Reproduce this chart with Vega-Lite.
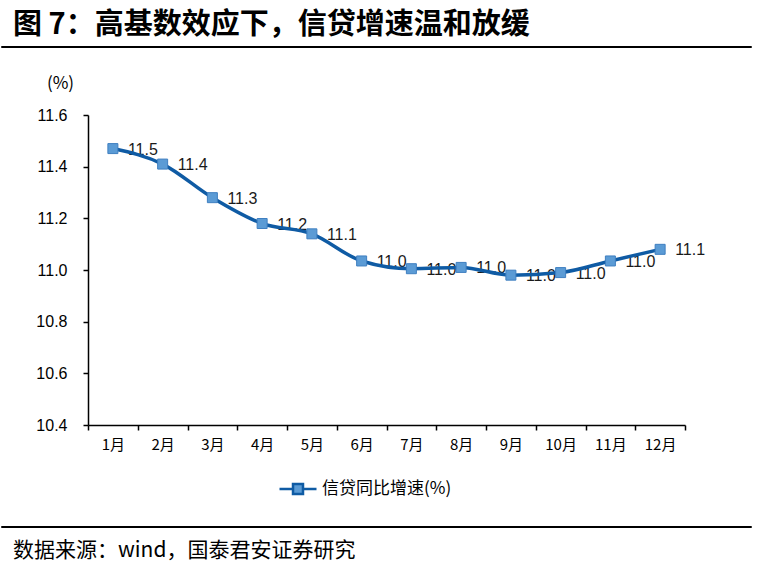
{
  "$schema": "https://vega.github.io/schema/vega-lite/v6.json",
  "background": "white",
  "padding": {"top": 10, "left": 0, "right": 0, "bottom": 0},
  "config": {
    "view": {"stroke": null},
    "font": "Noto Sans CJK SC"
  },
  "spacing": 26,
  "resolve": {"legend": {"color": "independent"}},
  "vconcat": [
    {
      "width": 750,
      "height": 1,
      "view": {"stroke": "black", "strokeWidth": 1},
      "title": {"text": "图 7：高基数效应下，信贷增速温和放缓", "anchor": "start", "dx": 12, "fontSize": 29, "fontWeight": "bold", "font": "Noto Sans CJK SC", "color": "black", "offset": 6},
      "data": {"values": []},
      "mark": "point"
    },
    {
      "spacing": 33,
      "resolve": {"legend": {"color": "independent"}},
      "hconcat": [
        {"width": 1, "height": 10, "data": {"values": []}, "mark": "point"},
        {
          "width": 597,
          "height": 310,
          "data": {"values": [
            {"month": "1月", "value": 11.47, "series": "信贷同比增速(%)"},
            {"month": "2月", "value": 11.41, "series": "信贷同比增速(%)"},
            {"month": "3月", "value": 11.28, "series": "信贷同比增速(%)"},
            {"month": "4月", "value": 11.18, "series": "信贷同比增速(%)"},
            {"month": "5月", "value": 11.14, "series": "信贷同比增速(%)"},
            {"month": "6月", "value": 11.035, "series": "信贷同比增速(%)"},
            {"month": "7月", "value": 11.005, "series": "信贷同比增速(%)"},
            {"month": "8月", "value": 11.01, "series": "信贷同比增速(%)"},
            {"month": "9月", "value": 10.98, "series": "信贷同比增速(%)"},
            {"month": "10月", "value": 10.99, "series": "信贷同比增速(%)"},
            {"month": "11月", "value": 11.035, "series": "信贷同比增速(%)"},
            {"month": "12月", "value": 11.08, "series": "信贷同比增速(%)"}
          ]},
          "encoding": {
            "x": {
              "field": "month", "type": "ordinal", "sort": null,
              "scale": {"type": "band", "paddingInner": 0, "paddingOuter": 0},
              "axis": {"title": null, "labelAngle": 0, "tickBand": "extent", "tickSize": 5, "labelPadding": 7, "labelFontSize": 15, "labelFont": "Noto Sans CJK SC", "domainColor": "black", "tickColor": "black", "labelColor": "black", "domainWidth": 1.5, "tickWidth": 1.5}
            },
            "y": {
              "field": "value", "type": "quantitative",
              "scale": {"domain": [10.4, 11.6], "nice": false, "zero": false},
              "axis": {"values": [10.4, 10.6, 10.8, 11.0, 11.2, 11.4, 11.6], "format": ".1f", "title": "(%)", "titleAngle": 0, "titleX": -28, "titleY": -32, "titleAlign": "center", "titleBaseline": "middle", "titleFontSize": 17, "titleFontWeight": "normal", "titleFont": "Noto Sans CJK SC", "titleColor": "black", "grid": false, "labelFontSize": 16, "labelFont": "Liberation Sans", "labelPadding": 16, "tickSize": 5, "domainColor": "black", "tickColor": "black", "labelColor": "black", "domainWidth": 1.5, "tickWidth": 1.5}
            }
          },
          "layer": [
            {
              "mark": {"type": "text", "align": "left", "baseline": "middle", "dx": 15, "dy": 1, "fontSize": 16, "font": "Liberation Sans", "color": "#1a1a1a"},
              "encoding": {"text": {"field": "value", "type": "quantitative", "format": ".1f"}}
            },
            {
              "mark": {"type": "line", "interpolate": "monotone", "strokeWidth": 3.5},
              "encoding": {
                "color": {
                  "field": "series", "type": "nominal",
                  "scale": {"range": ["#0F5BA4"]},
                  "legend": {"title": null, "orient": "none", "legendX": 190, "legendY": 354, "direction": "horizontal", "labelFontSize": 17, "labelFont": "Noto Sans CJK SC", "labelColor": "black", "symbolType": "M-1,0H-0.27M0.27,0H1M-0.27,-0.27H0.27V0.27H-0.27Z", "symbolSize": 1369, "symbolStrokeWidth": 2.5,
                    "encode": {"symbols": {"update": {"fill": {"value": "#5B9BD5"}, "stroke": {"value": "#0F5BA4"}}}}}
                }
              }
            },
            {
              "mark": {"type": "point", "shape": "square", "size": 100, "filled": true, "fill": "#5B9BD5", "stroke": "#3F7FC0", "strokeWidth": 1, "opacity": 1}
            }
          ]
        }
      ]
    },
    {
      "width": 750,
      "height": 1,
      "view": {"stroke": "black", "strokeWidth": 1},
      "title": {"text": "数据来源：wind，国泰君安证券研究", "orient": "bottom", "anchor": "start", "dx": 12, "fontSize": 21, "fontWeight": "normal", "font": "Noto Sans CJK SC", "color": "black", "offset": 13},
      "data": {"values": []},
      "mark": "point"
    }
  ]
}
